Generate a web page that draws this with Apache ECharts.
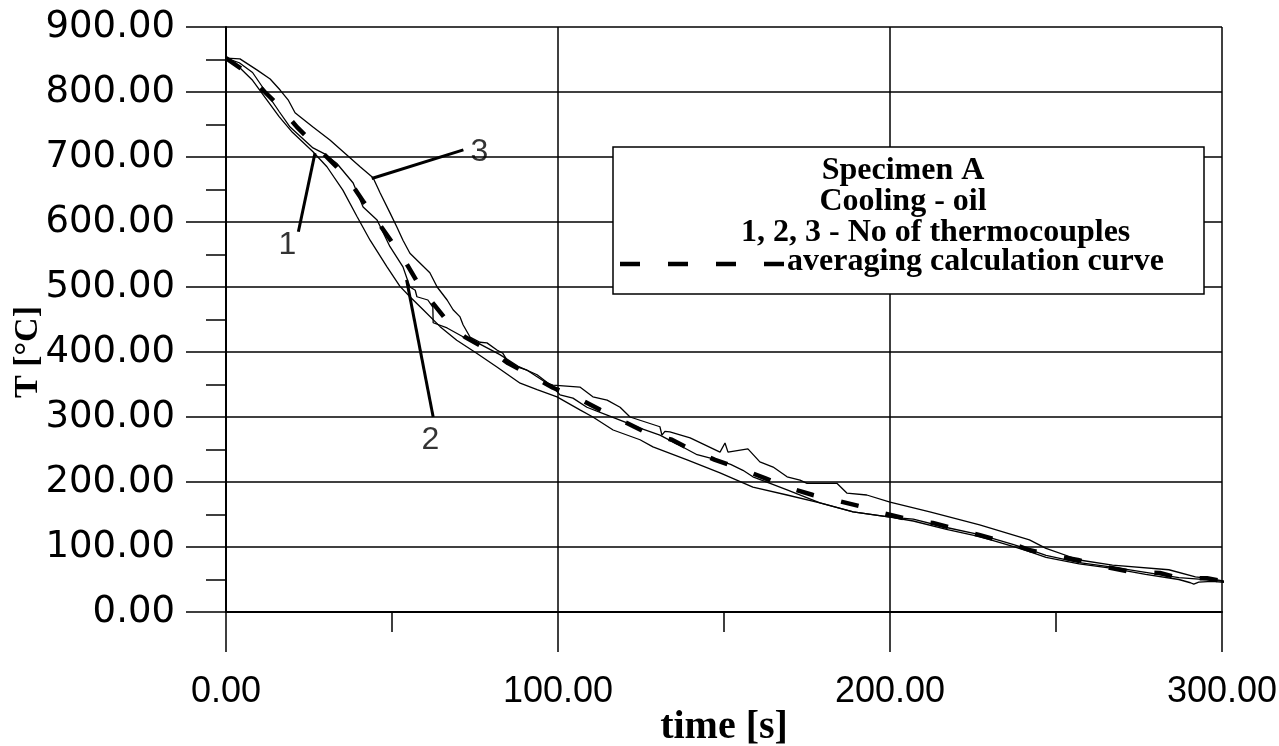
<!DOCTYPE html>
<html>
<head>
<meta charset="utf-8">
<script src="https://cdn.jsdelivr.net/npm/echarts@6/dist/echarts.min.js"></script>
<style>
  html, body { margin: 0; padding: 0; background: #fff; }
  #chart { width: 1279px; height: 746px; }
</style>
</head>
<body>
<div id="chart"></div>
<script>
// Thermocouple 1 — time [s] / temperature [°C]
const t1 = [0, 4, 8, 12, 16, 19.3, 26.2, 30, 33.4, 38.3, 41.3, 45.5, 49.4, 53.3, 55.4, 57, 57.5, 60.8, 62.3, 62.4, 66.6, 72.6, 76.5, 82.5, 88, 93.7, 98.5, 100.6, 104.5, 108.7, 114.8, 120.8, 124.7, 130.7, 136, 141.9, 147.9, 152, 155.7, 158.7, 163.9, 169, 178.9, 188.9, 200, 207, 217, 227, 237, 242, 247, 257, 267, 277, 287, 297, 301];
const T1 = [852, 845, 830, 800, 770, 746, 714, 704, 690, 660, 623, 603, 562, 531, 500, 495, 485, 480, 469, 445, 437, 420, 412, 396, 378, 365, 346, 334, 329, 315, 303, 291, 283, 272, 258, 242, 234, 227, 218, 208, 198, 188, 168, 154, 146, 143, 130, 119, 104, 96, 87, 76, 69, 61, 53, 49, 47];

// Thermocouple 2
const t2 = [0, 4, 8, 12.3, 16, 20, 26.2, 30.4, 35.2, 39.5, 43.4, 48.5, 52.4, 55.4, 59.4, 64.5, 69.5, 75.5, 81.6, 88.6, 93.7, 99.7, 106.6, 110.5, 116.6, 124.7, 128.6, 138.9, 148.8, 158.7, 169, 178.9, 188.9, 200, 207, 217, 227, 237, 242, 247, 257, 267, 277, 287, 290.5, 291.5, 293, 297, 302];
const T2 = [852, 838, 818, 788, 762, 738, 708, 685, 649, 608, 572, 531, 501, 485, 465, 439, 418, 398, 377, 352, 342, 331, 311, 300, 280, 265, 254, 234, 214, 192, 180, 168, 154, 146, 140, 127, 116, 101, 93, 84, 74, 67, 58, 50, 45, 43, 46, 47, 45];

// Thermocouple 3
const t3 = [0, 4.2, 9.3, 13.3, 16.3, 18.7, 20.8, 22.3, 26.2, 31.3, 36.4, 40.4, 44.3, 46.4, 49.4, 51.5, 53.3, 55.4, 58.4, 61.4, 63.6, 66.6, 68.4, 70.5, 71.4, 73.5, 76.5, 78.6, 81.6, 83.4, 84.6, 87.7, 90.7, 93.7, 96.7, 98.5, 106.6, 110.5, 114.8, 118.7, 121.7, 130.7, 131.3, 132.2, 133.7, 139.8, 148.8, 150.3, 151.2, 157.2, 160.8, 164.8, 169, 172.9, 175, 184, 187, 193, 200, 212, 227, 242, 247, 257, 267, 284, 292, 297, 302, 304.5, 305.4];
const T3 = [852, 851, 834, 820, 803, 788, 768, 762, 746, 726, 703, 685, 668, 645, 614, 592, 572, 552, 537, 522, 500, 480, 465, 454, 442, 423, 415, 414, 403, 398, 388, 377, 372, 362, 352, 349, 346, 331, 326, 315, 300, 285, 272, 278, 277, 268, 246, 260, 246, 251, 231, 223, 208, 203, 198, 198, 183, 180, 169, 154, 134, 111, 98, 80, 72, 65, 54, 51, 46, 42, 46];

// Averaging calculation curve
const tAvg = [0, 5.1, 11.7, 15.7, 21.4, 25.9, 31.9, 36.4, 41.3, 44.9, 50, 53.3, 57.8, 62, 67.5, 72, 80.1, 84.9, 92.5, 98.5, 106, 112.7, 120.2, 126.2, 134.3, 140.4, 147.3, 154.2, 162.3, 169, 176.8, 183.4, 191.6, 197.9, 206, 212.9, 221, 227.1, 236.1, 242.2, 251.2, 256.6, 266.3, 272.3, 281.3, 287.3, 295.5, 301.8];
const TAvg = [852, 834, 800, 780, 746, 723, 692, 669, 632, 606, 569, 545, 506, 477, 442, 423, 400, 383, 362, 345, 329, 311, 292, 277, 265, 249, 234, 222, 206, 192, 180, 172, 162, 152, 142, 137, 126, 118, 106, 95, 85, 80, 68, 62, 60, 52, 52, 46];

// Thermocouple number labels and their pointer lines (data units)
const tcNames = ['1', '2', '3'];
const tcLabelAt = [[18.5, 565], [61.6, 265], [76.3, 707]];
const tcPointerFrom = [[21.8, 585], [62.4, 300], [71.5, 711]];
const tcPointerTo = [[26.8, 706], [54.4, 511], [43.9, 667]];

// Axis titles and legend box text
const xTitle = 'time [s]';
const yTitle = 'T [°C]';
const legendLines = ['Specimen A', 'Cooling - oil', '1, 2, 3 - No of thermocouples', 'averaging calculation curve'];

const zip = (xs, ys) => xs.map((x, i) => [x, ys[i]]);

const thin = { color: '#000', width: 1.3 };
const sans = '"Liberation Sans", Arial, sans-serif';
const wideSans = '"DejaVu Sans", Verdana, sans-serif';
const serif = '"Liberation Serif", "Times New Roman", serif';

function thermoSeries(name, xs, ys, extra) {
  return Object.assign({
    name, type: 'line', data: zip(xs, ys), showSymbol: false, symbol: 'none',
    clip: false, smooth: false, lineStyle: thin, itemStyle: { color: '#000' }, z: 3
  }, extra || {});
}

const chart = echarts.init(document.getElementById('chart'), null, { renderer: 'canvas' });

const axisCommon = {
  axisLine: { show: true, lineStyle: { color: '#000', width: 2 } },
  axisTick: { show: true, length: 40, lineStyle: { color: '#000', width: 1.5 } },
  minorTick: { show: true, splitNumber: 2, length: 20, lineStyle: { color: '#000', width: 1.5 } },
  splitLine: { show: true, lineStyle: { color: '#000', width: 1.5 } }
};

const option = {
  animation: false,
  backgroundColor: '#fff',
  grid: { left: 226, right: 57, top: 27, bottom: 134, outerBoundsMode: 'none', containLabel: false },
  xAxis: Object.assign({
    type: 'value', min: 0, max: 300, interval: 100,
    name: xTitle, nameLocation: 'middle', nameGap: 96, nameMoveOverlap: false,
    nameTextStyle: { fontFamily: serif, fontWeight: 'bold', fontSize: 40, color: '#000' },
    axisLabel: { margin: 62, fontFamily: sans, fontSize: 36, color: '#000', formatter: v => v.toFixed(2) }
  }, axisCommon),
  yAxis: Object.assign({
    type: 'value', min: 0, max: 900, interval: 100,
    axisLabel: { margin: 51, fontFamily: wideSans, fontSize: 37, color: '#000', formatter: v => v.toFixed(2) }
  }, axisCommon),
  series: [
    thermoSeries('1', t1, T1),
    thermoSeries('2', t2, T2),
    thermoSeries('3', t3, T3, {
      markLine: {
        silent: true, symbol: ['none', 'none'], animation: false,
        label: { show: false },
        lineStyle: { color: '#000', width: 3, type: 'solid' },
        data: tcPointerFrom.map((p, i) => [{ coord: p }, { coord: tcPointerTo[i] }])
      }
    }),
    {
      name: 'average', type: 'line', data: zip(tAvg, TAvg), showSymbol: false, symbol: 'none',
      clip: false, lineStyle: { color: '#000', width: 4.5, type: [18, 28], cap: 'butt' }, z: 4
    },
    {
      name: 'tc labels', type: 'scatter', symbolSize: 0, z: 5,
      data: tcLabelAt.map((p, i) => [p[0], p[1], tcNames[i]]),
      label: {
        show: true, position: 'inside', formatter: p => p.data[2],
        fontFamily: sans, fontSize: 32, color: '#000'
      }
    }
  ],
  graphic: {
    elements: [
      // vertical axis title, set a little below the plot's middle
      { type: 'text', z: 50, x: 28, y: 352, rotation: Math.PI / 2,
        style: { text: yTitle, font: 'bold 34px ' + serif, fill: '#000', textAlign: 'center', textVerticalAlign: 'middle' } },
      // legend box
      { type: 'rect', z: 100, shape: { x: 613, y: 147, width: 591, height: 147 },
        style: { fill: '#fff', stroke: '#000', lineWidth: 1.5 } },
      { type: 'text', z: 101, x: 903, y: 171,
        style: { text: legendLines[0], font: 'bold 32px ' + serif, fill: '#000', textAlign: 'center', textVerticalAlign: 'middle' } },
      { type: 'text', z: 101, x: 903, y: 202,
        style: { text: legendLines[1], font: 'bold 32px ' + serif, fill: '#000', textAlign: 'center', textVerticalAlign: 'middle' } },
      { type: 'text', z: 101, x: 741, y: 233,
        style: { text: legendLines[2], font: 'bold 32px ' + serif, fill: '#000', textAlign: 'left', textVerticalAlign: 'middle' } },
      { type: 'text', z: 101, x: 787, y: 262,
        style: { text: legendLines[3], font: 'bold 32px ' + serif, fill: '#000', textAlign: 'left', textVerticalAlign: 'middle' } },
      { type: 'line', z: 101, shape: { x1: 620, y1: 264, x2: 786, y2: 264 },
        style: { stroke: '#000', lineWidth: 4.5, lineDash: [20, 28] } }
    ]
  }
};

chart.setOption(option);
</script>
</body>
</html>
